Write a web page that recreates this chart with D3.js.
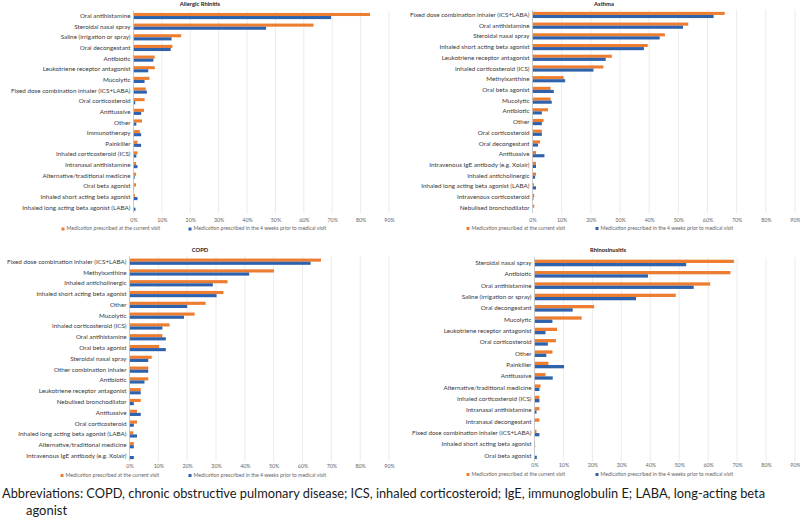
<!DOCTYPE html>
<html>
<head>
<meta charset="utf-8">
<script src="https://cdn.jsdelivr.net/npm/d3@7"></script>
<style>
  html, body { margin: 0; padding: 0; background: #ffffff; }
  svg { display: block; }
  text { font-family: Lato, "Open Sans", sans-serif; }
</style>
</head>
<body>
<svg id="chart" width="800" height="523"></svg>
<script>
// ---------------- DATA ----------------
const tickValues = [0, 10, 20, 30, 40, 50, 60, 70, 80, 90];
const seriesNames = ["Medication prescribed at the current visit", "Medication prescribed in the 4 weeks prior to medical visit"];
const footnoteLines = [
  "Abbreviations: COPD, chronic obstructive pulmonary disease; ICS, inhaled corticosteroid; IgE, immunoglobulin E; LABA, long-acting beta",
  "agonist"
];

const arTitle = "Allergic Rhinitis";
const arCategories = ["Oral antihistamine", "Steroidal nasal spray", "Saline (irrigation or spray)", "Oral decongestant", "Antibiotic", "Leukotriene receptor antagonist", "Mucolytic", "Fixed dose combination inhaler (ICS+LABA)", "Oral corticosteroid", "Antitussive", "Other", "Immunotherapy", "Painkiller", "Inhaled corticosteroid (ICS)", "Intranasal antihistamine", "Alternative/traditional medicine", "Oral beta agonist", "Inhaled short acting beta agonist", "Inhaled long acting beta agonist (LABA)"];
const arCurrent = [83.3, 63.4, 16.8, 13.7, 7.5, 7.5, 5.6, 4.3, 3.9, 3.7, 3.0, 2.2, 1.4, 1.4, 0.9, 0.9, 0.9, 0.5, 0.1];
const arPrior   = [69.6, 46.7, 13.4, 13.1, 7.0, 5.2, 3.9, 4.7, 0.6, 2.7, 1.0, 2.7, 2.7, 1.0, 1.4, 0.4, 0.2, 1.4, 0.7];

const asTitle = "Asthma";
const asCategories = ["Fixed dose combination inhaler (ICS+LABA)", "Oral antihistamine", "Steroidal nasal spray", "Inhaled short acting beta agonist", "Leukotriene receptor antagonist", "Inhaled corticosteroid (ICS)", "Methylxanthine", "Oral beta agonist", "Mucolytic", "Antibiotic", "Other", "Oral corticosteroid", "Oral decongestant", "Antitussive", "Intravenous IgE antibody (e.g. Xolair)", "Inhaled anticholinergic", "Inhaled long acting beta agonist (LABA)", "Intravenous corticosteroid", "Nebulised bronchodilator"];
const asCurrent = [65.9, 53.4, 45.4, 39.5, 27.2, 24.3, 10.7, 6.2, 6.2, 5.3, 3.8, 3.2, 2.6, 1.2, 1.2, 1.2, 0.5, 0.6, 0.6];
const asPrior   = [62.1, 51.6, 43.6, 38.2, 25.1, 20.9, 11.2, 7.3, 6.6, 3.2, 3.2, 3.2, 1.9, 4.1, 1.2, 0.9, 1.2, 0.3, 0.0];

const coTitle = "COPD";
const coCategories = ["Fixed dose combination inhaler (ICS+LABA)", "Methylxanthine", "Inhaled anticholinergic", "Inhaled short acting beta agonist", "Other", "Mucolytic", "Inhaled corticosteroid (ICS)", "Oral antihistamine", "Oral beta agonist", "Steroidal nasal spray", "Other combination inhaler", "Antibiotic", "Leukotriene receptor antagonist", "Nebulised bronchodilator", "Antitussive", "Oral corticosteroid", "Inhaled long acting beta agonist (LABA)", "Alternative/traditional medicine", "Intravenous IgE antibody (e.g. Xolair)"];
const coCurrent = [66.4, 50.1, 34.0, 32.6, 26.4, 22.6, 13.9, 11.4, 10.3, 7.7, 6.5, 6.5, 3.9, 3.9, 2.6, 2.6, 1.3, 1.5, 0.0];
const coPrior   = [62.8, 41.5, 28.9, 30.2, 20.0, 18.9, 11.4, 12.6, 12.6, 6.5, 6.5, 5.2, 3.9, 1.5, 3.9, 1.5, 2.6, 1.5, 1.5];

const rsTitle = "Rhinosinusitis";
const rsCategories = ["Steroidal nasal spray", "Antibiotic", "Oral antihistamine", "Saline (irrigation or spray)", "Oral decongestant", "Mucolytic", "Leukotriene receptor antagonist", "Oral corticosteroid", "Other", "Painkiller", "Antitussive", "Alternative/traditional medicine", "Inhaled corticosteroid (ICS)", "Intranasal antihistamine", "Intranasal decongestant", "Fixed dose combination inhaler (ICS+LABA)", "Inhaled short acting beta agonist", "Oral beta agonist"];
const rsCurrent = [68.9, 67.7, 60.7, 48.8, 20.6, 16.3, 7.8, 7.4, 6.2, 4.8, 3.8, 2.1, 1.7, 1.7, 1.7, 0.7, 0.2, 0.0];
const rsPrior   = [52.4, 39.2, 55.0, 35.1, 13.2, 6.2, 3.8, 4.6, 4.1, 10.2, 6.3, 1.7, 1.7, 0.7, 0.0, 1.7, 0.2, 0.8];

// ---------------- LAYOUT ----------------
const colors = ["#ED7D31", "#2F62AD"];
const panels = [
  { title: arTitle, cats: arCategories, cur: arCurrent, pri: arPrior,
    x0: 133.5, x1: 389, y0: 10.7, y1: 213, titleX: 200, titleY: 5, tickY: 221, legY: 229, legX: [63, 190] },
  { title: asTitle, cats: asCategories, cur: asCurrent, pri: asPrior,
    x0: 532.5, x1: 795, y0: 9.6, y1: 213.1, titleX: 604, titleY: 5, tickY: 220.5, legY: 228.5, legX: [468, 597] },
  { title: coTitle, cats: coCategories, cur: coCurrent, pri: coPrior,
    x0: 129.5, x1: 389, y0: 256.3, y1: 461.4, titleX: 200, titleY: 251, tickY: 467, legY: 475.5, legX: [62, 190] },
  { title: rsTitle, cats: rsCategories, cur: rsCurrent, pri: rsPrior,
    x0: 534.5, x1: 795, y0: 257.3, y1: 461.4, titleX: 608, titleY: 251, tickY: 465.5, legY: 474.5, legX: [468, 597] }
];

const svg = d3.select("#chart");

panels.forEach(p => {
  const g = svg.append("g");
  const x = d3.scaleLinear().domain([0, 90]).range([p.x0, p.x1]);
  const y = d3.scaleBand().domain(p.cats).range([p.y0, p.y1]).paddingInner(0.42).paddingOuter(0.21);
  const sub = d3.scaleBand().domain([0, 1]).range([0, y.bandwidth()]);

  // gridlines
  g.append("g").selectAll("line").data(tickValues.slice(1)).join("line")
    .attr("x1", d => x(d)).attr("x2", d => x(d))
    .attr("y1", p.y0).attr("y2", p.y1)
    .attr("stroke", "#e6e6e6").attr("stroke-width", 0.8);

  // bars
  const rows = p.cats.map((c, i) => ({ cat: c, vals: [p.cur[i], p.pri[i]] }));
  const rg = g.append("g").selectAll("g").data(rows).join("g")
    .attr("transform", d => `translate(0,${y(d.cat)})`);
  rg.selectAll("rect").data(d => d.vals.map((v, k) => ({ v, k }))).join("rect")
    .attr("x", x(0))
    .attr("y", d => sub(d.k))
    .attr("width", d => Math.max(0, x(d.v) - x(0)))
    .attr("height", sub.bandwidth())
    .attr("fill", d => colors[d.k]);

  // category axis line
  g.append("line").attr("x1", x(0)).attr("x2", x(0)).attr("y1", p.y0).attr("y2", p.y1)
    .attr("stroke", "#bfbfbf").attr("stroke-width", 0.8);

  // category labels
  const yAxis = d3.axisLeft(y).tickSize(0).tickPadding(3);
  const ya = g.append("g").attr("transform", `translate(${x(0)},0)`).call(yAxis);
  ya.select(".domain").remove();
  ya.selectAll("text").attr("font-size", 6.3).attr("fill", "#3a3a3a").attr("font-family", "Lato, sans-serif");

  // x tick labels
  const xAxis = d3.axisBottom(x).tickValues(tickValues).tickSize(0).tickPadding(0).tickFormat(d => d + "%");
  const xa = g.append("g").attr("transform", `translate(0,${p.tickY})`).call(xAxis);
  xa.select(".domain").remove();
  xa.selectAll("text").attr("y", 0).attr("dy", null).attr("dominant-baseline", "middle")
    .attr("font-size", 5.3).attr("fill", "#666").attr("font-family", "Lato, sans-serif");

  // title
  g.append("text").attr("x", p.titleX).attr("y", p.titleY).attr("text-anchor", "middle")
    .attr("dominant-baseline", "middle").attr("font-size", 5.8).attr("font-weight", "bold")
    .attr("fill", "#222").text(p.title);

  // legend
  seriesNames.forEach((s, k) => {
    g.append("rect").attr("x", p.legX[k] - 1.5).attr("y", p.legY - 1.5).attr("width", 3).attr("height", 3)
      .attr("fill", colors[k]);
    g.append("text").attr("x", p.legX[k] + 3.5).attr("y", p.legY).attr("dominant-baseline", "middle")
      .attr("font-size", 5.2).attr("fill", "#666").text(s);
  });
});

// footnote
svg.append("text").attr("x", 2).attr("y", 498).attr("font-size", 13).attr("fill", "#1a1a1a")
  .attr("textLength", 763).attr("lengthAdjust", "spacingAndGlyphs").text(footnoteLines[0]);
svg.append("text").attr("x", 26).attr("y", 514.5).attr("font-size", 13).attr("fill", "#1a1a1a")
  .text(footnoteLines[1]);
</script>
</body>
</html>
